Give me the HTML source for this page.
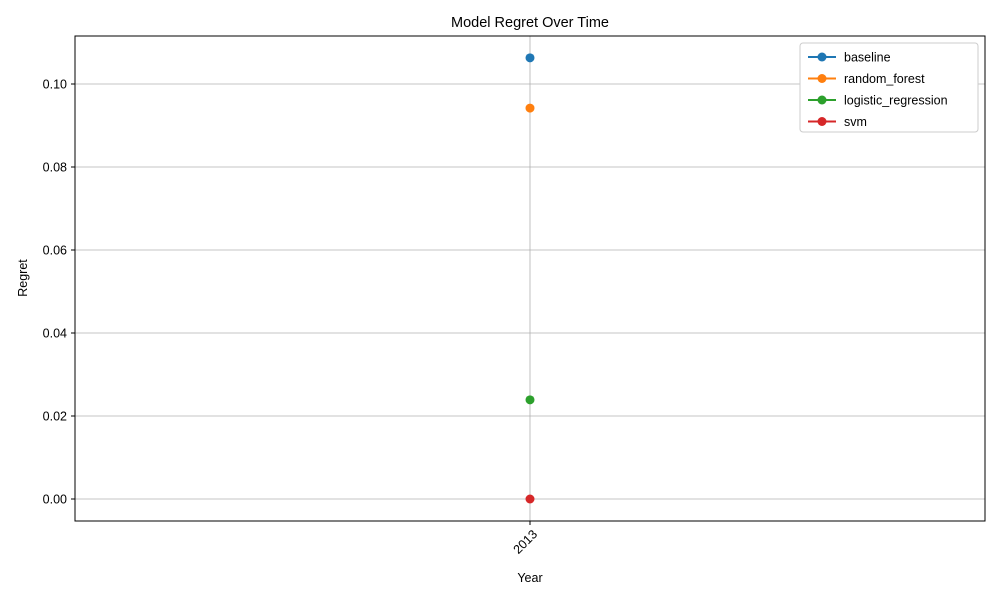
<!DOCTYPE html>
<html><head><meta charset="utf-8"><style>body{margin:0;background:#fff}svg{font-family:"Liberation Sans","DejaVu Sans",sans-serif}</style></head>
<body>
<svg id="chart" width="1000" height="600" xmlns="http://www.w3.org/2000/svg">
<rect width="1000" height="600" fill="#fff"/>
<text x="530" y="27" font-size="14.5" text-anchor="middle">Model Regret Over Time</text>
<g id="grid"></g><g id="axes"></g><g id="marks"></g>
<rect x="75" y="36" width="910" height="485" fill="none" stroke="#000" stroke-width="1"/>
<text x="530" y="582" font-size="12.5" text-anchor="middle">Year</text>
<text transform="translate(27,278) rotate(-90)" font-size="12.5" text-anchor="middle">Regret</text>
<g id="legend"></g>
</svg>
<script>
const categories=["2013"];
const seriesNames=["baseline","random_forest","logistic_regression","svm"];
const seriesColors=["#1f77b4","#ff7f0e","#2ca02c","#d62728"];
const baselineVals=[0.1063];
const rfVals=[0.0942];
const lrVals=[0.0239];
const svmVals=[0.0];
const yTicks=[0,0.02,0.04,0.06,0.08,0.10];
const yTickLabels=["0.00","0.02","0.04","0.06","0.08","0.10"];
const allSeries=[baselineVals,rfVals,lrVals,svmVals];
const NS="http://www.w3.org/2000/svg";
function y(v){return 499-v*4150;}
function x(i){return 75+910*(i+0.5)/categories.length;}
function mk(t,a,p){const e=document.createElementNS(NS,t);for(const k in a)e.setAttribute(k,a[k]);p.appendChild(e);return e;}
const grid=document.getElementById('grid'),axes=document.getElementById('axes'),marks=document.getElementById('marks'),leg=document.getElementById('legend');
yTicks.forEach((v,i)=>{
 const g=mk('line',{x1:75,x2:985,y1:y(v),y2:y(v),stroke:'#b0b0b0','stroke-width':0.8},grid);
 
 
 mk('line',{x1:71,x2:75,y1:y(v),y2:y(v),stroke:'#000'},axes);
 const t=mk('text',{x:67,y:y(v)+4.5,'font-size':12.5,'text-anchor':'end'},axes);t.textContent=yTickLabels[i];
 
 
});
categories.forEach((c,i)=>{
 const g=mk('line',{x1:x(i),x2:x(i),y1:36,y2:521,stroke:'#b0b0b0','stroke-width':0.8},grid);
 
 
 mk('line',{x1:x(i),x2:x(i),y1:521,y2:525,stroke:'#000'},axes);
 const t=mk('text',{transform:`translate(${x(i)+8},${535}) rotate(-45)`,'font-size':12.5,'text-anchor':'end'},axes);t.textContent=c;
 
 
});
allSeries.forEach((vals,s)=>{
 if(vals.length>1){const p=mk('polyline',{points:vals.map((v,i)=>x(i)+','+y(v)).join(' '),fill:'none',stroke:seriesColors[s],'stroke-width':2},marks);
 
 }
 vals.forEach((v,i)=>{const c=mk('circle',{cx:x(i),cy:y(v),r:4.5,fill:seriesColors[s]},marks);
 
 });
});
const lb=mk('rect',{x:800,y:43,width:178,height:89,rx:3,fill:'#fff',stroke:'#ccc'},leg);


seriesNames.forEach((n,s)=>{
 const yy=57+s*21.5;
 const g=mk('g',{},leg);
 
 
 mk('line',{x1:808,x2:836,y1:yy,y2:yy,stroke:seriesColors[s],'stroke-width':2},g);
 mk('circle',{cx:822,cy:yy,r:4.5,fill:seriesColors[s]},g);
 const t=mk('text',{x:844,y:yy+4.5,'font-size':12.5},g);t.textContent=n;
});
</script>
</body></html>
